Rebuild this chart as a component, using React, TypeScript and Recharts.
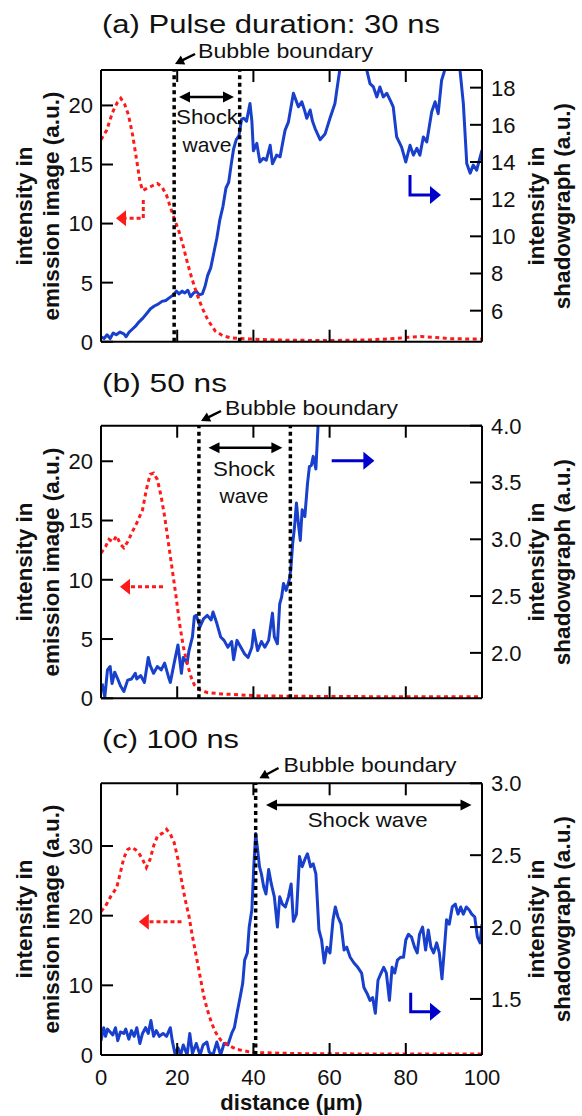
import { ComposedChart, Line, XAxis, YAxis, ReferenceLine } from 'recharts';

const FONT = '"Liberation Sans", Arial, Helvetica, sans-serif';
const BLUE = '#1840cc';
const RED = '#ff1a1a';

type Pt = [number, number];

// (a) 30 ns — [distance µm, intensity]
const redA: Pt[] = [
  [0, 17.1], [1.5, 17.9], [3, 19.4], [4.2, 20.2], [5.2, 20.6], [6.2, 20.1], [7.2, 19.2], [8.3, 17.5],
  [9.3, 15.5], [10.2, 13.6], [10.9, 12.8], [12.2, 13.0], [13.5, 13.2], [14.8, 13.4], [16, 13.1],
  [17.2, 12.4], [18.5, 11.1], [19.5, 10.2], [20.5, 9.3], [21.5, 8.2], [22.5, 6.9], [23.8, 5.4],
  [25.1, 4.1], [26.5, 2.9], [28.1, 1.8], [30, 0.9], [32, 0.5], [34, 0.33], [36.5, 0.27], [42, 0.18],
  [50, 0.12], [60, 0.1], [70, 0.15], [76, 0.25], [80, 0.35], [84, 0.45], [88, 0.35], [92, 0.25], [100, 0.22],
];
const blueA: Pt[] = [
  [0, 4.6], [0.8, 4.5], [1.6, 4.7], [2.4, 4.5], [3.2, 4.8], [4, 4.7], [5, 4.85], [6, 4.75], [6.6, 4.6],
  [7.4, 4.85], [8.2, 5.0], [9, 5.15], [10, 5.4], [11, 5.6], [12, 5.85], [13, 6.1], [14, 6.25], [15, 6.35],
  [16, 6.5], [17, 6.55], [18, 6.7], [19, 6.85], [19.8, 7.05], [20.5, 6.9], [21.3, 7.05], [22, 6.95],
  [22.8, 7.1], [23.5, 6.75], [24.3, 6.95], [25, 7.05], [25.8, 6.85], [26.6, 6.9], [27.3, 7.3], [28, 7.9],
  [28.8, 8.3], [29.6, 9.1], [30.4, 9.9], [31.2, 10.9], [32, 11.6], [32.8, 12.6], [33.5, 12.9], [34.2, 13.9],
  [34.8, 14.7], [35.5, 15.2], [36.2, 15.4], [36.9, 16.3], [37.5, 16.35], [38.2, 16.2], [39.1, 17.15],
  [39.6, 16.2], [40, 14.6], [40.9, 15.0], [41.7, 14.0], [42.6, 14.2], [43.4, 14.1], [44.4, 14.9], [45, 13.9],
  [46.1, 14.37], [47, 14.28], [48.3, 15.7], [49.2, 16.16], [50.5, 17.7], [51.8, 16.97], [52.7, 17.24],
  [53.4, 16.8], [54, 16.35], [54.9, 16.8], [55.5, 16.2], [56.2, 15.8], [57.5, 15.2], [58.8, 15.5],
  [60.1, 16.35], [61.4, 17.15], [61.9, 17.87], [62.7, 19], [64, 21], [66, 22], [68, 21], [69.7, 19],
  [70.6, 18.22], [71.5, 18.04], [72.4, 17.5], [73.2, 18.04], [74.1, 17.5], [75, 17.7], [75.9, 17.33],
  [76.7, 16.97], [77.6, 15.35], [78.9, 14.8], [80, 14.0], [81.1, 14.9], [82, 14.37], [82.9, 14.73],
  [83.7, 14.37], [84.6, 15.35], [85.5, 15.08], [86.8, 16.7], [87.7, 17.24], [88.5, 16.6], [89.4, 18.4],
  [90.3, 19], [92, 20.5], [93, 20.5], [94.2, 19], [95.1, 17.15], [96, 13.92], [96.9, 13.4], [97.7, 13.83],
  [98.6, 13.56], [100, 14.64],
];

// (b) 50 ns
const redB: Pt[] = [
  [0, 12.25], [1.2, 12.8], [2.1, 13.4], [3.1, 13.2], [4.1, 13.7], [5.1, 13.0], [6, 12.7], [7, 13.2],
  [8, 13.9], [9.4, 14.8], [10.9, 15.9], [11.9, 17.6], [12.9, 18.9], [13.8, 19.0], [14.8, 18.45],
  [15.8, 17.0], [16.7, 15.35], [17.7, 13.1], [18.7, 10.85], [19.7, 8.6], [20.6, 6.34], [21.6, 4.37],
  [22.6, 2.96], [23.6, 1.83], [24.5, 1.13], [26, 0.7], [27.9, 0.48], [31.8, 0.37], [41.6, 0.2],
  [60, 0.15], [80, 0.13], [100, 0.13],
];
const blueB: Pt[] = [
  [0.3, 1.73], [1, 1.61], [1.7, 1.85], [2.4, 1.88], [2.9, 1.73], [3.6, 1.83], [4.4, 1.77], [5.1, 1.71],
  [6, 1.66], [7, 1.76], [8, 1.77], [9, 1.82], [9.4, 1.77], [10.4, 1.8], [11.4, 1.74], [12.4, 1.96],
  [12.9, 1.89], [13.8, 1.82], [14.8, 1.88], [15.8, 1.85], [16.7, 1.91], [17.7, 1.79], [18.2, 1.74],
  [19.2, 1.91], [20.2, 2.07], [21.1, 1.82], [21.6, 1.96], [22.6, 1.91], [23.1, 2.02], [24, 2.14],
  [24.5, 2.32], [25, 2.33], [26, 2.23], [26.9, 2.3], [27.9, 2.33], [28.9, 2.29], [29.4, 2.36], [30.4, 2.26],
  [31.4, 2.14], [32.3, 2.11], [33.3, 2.05], [34.3, 2.1], [34.8, 1.94], [35.7, 2.11], [36.7, 2.05],
  [37.7, 1.99], [38.6, 1.96], [39.6, 2.05], [40.1, 2.2], [41.1, 2.02], [42.1, 2.1], [43, 2.05], [44, 2.11],
  [45, 2.35], [45.5, 2.14], [46.3, 2.08], [46.9, 2.43], [47.4, 2.49], [47.9, 2.61], [48.6, 2.55],
  [49.4, 2.64], [49.8, 2.73], [50.3, 2.96], [50.8, 3.11], [51.3, 3.32], [51.8, 3.14], [52.3, 2.99],
  [52.8, 3.26], [53.5, 3.2], [54.2, 3.49], [54.7, 3.64], [55.2, 3.65], [55.7, 3.73], [56.4, 3.62],
  [57, 4.02], [57.5, 4.2],
];

// (c) 100 ns
const redC: Pt[] = [
  [0, 20.6], [1.2, 21.4], [2.6, 22.8], [4.1, 24.0], [5.1, 26.2], [6, 28.3], [7, 29.5], [8, 29.8], [9, 29.5],
  [9.9, 29.0], [10.9, 28.1], [11.9, 26.9], [12.9, 28.1], [13.8, 30.0], [14.8, 31.4], [16.3, 31.9],
  [17.2, 32.4], [18.2, 31.7], [19.2, 30.5], [20.2, 28.1], [21.1, 25.2], [22.1, 22.3], [23.1, 19.9],
  [24, 17.0], [25, 14.2], [26, 11.3], [27, 8.4], [27.9, 6.5], [28.9, 4.8], [29.9, 3.4], [31.4, 2.16],
  [33.3, 1.44], [35.7, 0.8], [38.7, 0.48], [41.6, 0.34], [51.3, 0.2], [70, 0.15], [100, 0.15],
];
const blueC: Pt[] = [
  [0, 1.21], [0.7, 1.3], [1.2, 1.24], [1.7, 1.29], [2.4, 1.27], [3.1, 1.25], [3.8, 1.3], [4.4, 1.21],
  [5.1, 1.27], [6, 1.26], [6.5, 1.29], [7.3, 1.22], [8, 1.28], [8.7, 1.24], [9.4, 1.3], [10.2, 1.19],
  [10.9, 1.26], [11.7, 1.3], [12.4, 1.26], [13.1, 1.35], [13.8, 1.24], [14.5, 1.28], [15.3, 1.24],
  [16.3, 1.26], [17.2, 1.24], [18.2, 1.3], [18.7, 1.21], [19.4, 1.12], [20.2, 1.16], [20.9, 1.11],
  [21.6, 1.18], [22.6, 1.11], [23.3, 1.26], [24, 1.12], [25, 1.19], [26, 1.11], [26.8, 1.18], [27.8, 1.2],
  [28.4, 1.13], [29.4, 1.11], [30.4, 1.2], [31.4, 1.11], [32.3, 1.19], [33.3, 1.18], [34.3, 1.26],
  [35, 1.3], [35.7, 1.4], [36.5, 1.51], [37.2, 1.61], [37.7, 1.77], [38.4, 1.82], [38.9, 2.0], [39.6, 2.12],
  [40.1, 2.42], [40.6, 2.65], [41.1, 2.54], [41.6, 2.42], [42.1, 2.37], [42.7, 2.28], [43.3, 2.23],
  [44, 2.4], [44.7, 2.3], [45.5, 2.21], [46.3, 2.0], [46.9, 2.21], [47.6, 2.16], [48.4, 2.14], [49.2, 2.21],
  [49.9, 2.3], [50.5, 2.04], [51.3, 2.09], [52.1, 2.49], [52.8, 2.42], [53.5, 2.47], [54.2, 2.51],
  [55, 2.42], [55.7, 2.44], [56.4, 2.37], [57.2, 1.98], [57.9, 1.91], [58.6, 1.75], [59.3, 1.86],
  [60.1, 1.82], [60.9, 2.05], [61.5, 2.14], [62.2, 2.07], [63, 2.02], [63.8, 1.84], [64.5, 1.86],
  [65.4, 1.79], [66.4, 1.75], [67.4, 1.72], [68.4, 1.68], [69, 1.58], [69.8, 1.54], [70.6, 1.49],
  [71.3, 1.51], [72, 1.4], [72.7, 1.63], [73.5, 1.68], [74.2, 1.72], [74.9, 1.68], [75.7, 1.49],
  [76.4, 1.72], [77.1, 1.68], [77.8, 1.77], [78.6, 1.79], [79.4, 1.79], [80, 1.91], [80.7, 1.95],
  [81.5, 1.93], [82.3, 1.86], [83, 1.82], [83.6, 1.95], [84.4, 2.0], [85.2, 1.84], [85.9, 1.98],
  [86.6, 1.86], [87.3, 1.82], [88.1, 1.89], [88.8, 1.82], [89.5, 1.64], [90.1, 1.84], [90.7, 2.05],
  [91.4, 2.02], [92.2, 2.14], [93, 2.16], [93.7, 2.09], [94.4, 2.14], [95.1, 2.09], [95.9, 2.14],
  [96.6, 2.12], [97.3, 2.09], [98.1, 2.07], [98.8, 1.93], [99.5, 1.89], [100, 2.02],
];

const boundsA = [19.2, 36.4];
const boundsB = [25.7, 49.7];
const boundsC = [40.6];

const leftTicksA = [0, 5, 10, 15, 20];
const rightTicksA = [6, 8, 10, 12, 14, 16, 18];
const leftTicksB = [0, 5, 10, 15, 20];
const rightTicksB = [2.0, 2.5, 3.0, 3.5, 4.0];
const leftTicksC = [0, 10, 20, 30];
const rightTicksC = [1.5, 2.0, 2.5, 3.0];
const innerXTicks = [20, 40, 60, 80];
const xTicks = [0, 20, 40, 60, 80, 100];

const rows = (pts: Pt[]) => pts.map(([x, y]) => ({ x, y }));

const TICK_LEN = 12;

const LeftTick = ({ x, y, payload }: any) => (
  <g>
    <line x1={x + 8} x2={x + 8 + TICK_LEN} y1={y} y2={y} stroke="#000" strokeWidth={2} />
    <text x={x} y={y} dy="0.36em" textAnchor="end" fontSize={22} fontFamily={FONT} fill="#111">
      {payload.value}
    </text>
  </g>
);

const makeRightTick = (digits: number) => ({ x, y, payload }: any) => (
  <g>
    <line x1={x - 9 - TICK_LEN} x2={x - 9} y1={y} y2={y} stroke="#000" strokeWidth={2} />
    <text x={x} y={y} dy="0.36em" textAnchor="start" fontSize={22} fontFamily={FONT} fill="#111">
      {Number(payload.value).toFixed(digits)}
    </text>
  </g>
);

const makeBottomTick = (labels: boolean) => ({ x, y, payload }: any) => (
  <g>
    <line x1={x} x2={x} y1={y} y2={y - TICK_LEN} stroke="#000" strokeWidth={2} />
    {labels && (
      <text x={x} y={y + 30} textAnchor="middle" fontSize={22} fontFamily={FONT} fill="#111">
        {payload.value}
      </text>
    )}
  </g>
);

const TopTick = ({ x, y }: any) => (
  <line x1={x} x2={x} y1={y} y2={y + TICK_LEN} stroke="#000" strokeWidth={2} />
);

interface PanelProps {
  top: number;
  height: number;
  plotTop: number;
  plotBottom: number;
  red: Pt[];
  blue: Pt[];
  bounds: number[];
  leftDomain: [number, number];
  leftTicks: number[];
  rightDomain: [number, number];
  rightTicks: number[];
  rightDigits: number;
  xLabels: boolean;
}

function Panel(p: PanelProps) {
  const frame = { stroke: '#000', strokeWidth: 2 };
  return (
    <div style={{ position: 'absolute', left: 0, top: p.top, width: 582, height: p.height }}>
      <ComposedChart
        width={582}
        height={p.height}
        margin={{ top: p.plotTop - 1, bottom: p.height - p.plotBottom - 1, left: 100, right: 99 }}
      >
        <XAxis
          xAxisId="bottom"
          dataKey="x"
          type="number"
          domain={[0, 100]}
          allowDataOverflow
          ticks={p.xLabels ? xTicks : innerXTicks}
          interval={0}
          height={1}
          tickSize={0}
          tickMargin={0}
          tickLine={false}
          axisLine={frame}
          tick={makeBottomTick(p.xLabels)}
        />
        <XAxis
          xAxisId="top"
          orientation="top"
          dataKey="x"
          type="number"
          domain={[0, 100]}
          allowDataOverflow
          ticks={innerXTicks}
          interval={0}
          height={1}
          tickSize={0}
          tickMargin={0}
          tickLine={false}
          axisLine={frame}
          tick={TopTick}
        />
        <YAxis
          yAxisId="L"
          domain={p.leftDomain}
          allowDataOverflow
          ticks={p.leftTicks}
          interval={0}
          width={1}
          tickSize={0}
          tickMargin={8}
          tickLine={false}
          axisLine={frame}
          tick={LeftTick}
        />
        <YAxis
          yAxisId="R"
          orientation="right"
          domain={p.rightDomain}
          allowDataOverflow
          ticks={p.rightTicks}
          interval={0}
          width={1}
          tickSize={0}
          tickMargin={9}
          tickLine={false}
          axisLine={frame}
          tick={makeRightTick(p.rightDigits)}
        />
        <Line
          xAxisId="bottom"
          yAxisId="R"
          data={rows(p.blue)}
          dataKey="y"
          type="linear"
          dot={false}
          stroke={BLUE}
          strokeWidth={3}
          strokeLinejoin="round"
          isAnimationActive={false}
        />
        <Line
          xAxisId="top"
          yAxisId="L"
          data={rows(p.red)}
          dataKey="y"
          type="linear"
          dot={false}
          stroke={RED}
          strokeWidth={3}
          strokeDasharray="4 3.5"
          isAnimationActive={false}
        />
        {p.bounds.map((b) => (
          <ReferenceLine
            key={b}
            xAxisId="bottom"
            yAxisId="L"
            x={b}
            stroke="#000"
            strokeWidth={3.5}
            strokeDasharray="4 3.5"
          />
        ))}
      </ComposedChart>
    </div>
  );
}

// polyline arrow, head at last point
function Arrow({ pts, color, w = 2.5, len = 11, half = 5.5, dash, both }: {
  pts: [number, number][]; color: string; w?: number; len?: number; half?: number; dash?: string; both?: boolean;
}) {
  const head = (tip: [number, number], from: [number, number]) => {
    const dx = tip[0] - from[0];
    const dy = tip[1] - from[1];
    const d = Math.hypot(dx, dy) || 1;
    const ux = dx / d;
    const uy = dy / d;
    const bx = tip[0] - ux * len;
    const by = tip[1] - uy * len;
    return {
      base: [bx + ux * 1, by + uy * 1] as [number, number],
      poly: `${tip[0]},${tip[1]} ${bx - uy * half},${by + ux * half} ${bx + uy * half},${by - ux * half}`,
    };
  };
  const n = pts.length;
  const end = head(pts[n - 1], pts[n - 2]);
  const line = [...pts];
  line[n - 1] = end.base;
  let start: { base: [number, number]; poly: string } | null = null;
  if (both) {
    start = head(pts[0], pts[1]);
    line[0] = start.base;
  }
  return (
    <g>
      <polyline
        points={line.map((q) => q.join(',')).join(' ')}
        fill="none"
        stroke={color}
        strokeWidth={w}
        strokeDasharray={dash}
      />
      <polygon points={end.poly} fill={color} />
      {start && <polygon points={start.poly} fill={color} />}
    </g>
  );
}

const txt = { fontFamily: FONT, fill: '#111' };

function AxisTitles({ cy }: { cy: number }) {
  const s = { ...txt, fontSize: 22.5, fontWeight: 700 as const };
  const rot = (x: number) => `rotate(-90 ${x} ${cy})`;
  return (
    <g>
      <text x={24.5} y={cy} transform={rot(24.5)} textAnchor="middle" dominantBaseline="central" {...s}>
        intensity in
      </text>
      <text x={51} y={cy} transform={rot(51)} textAnchor="middle" dominantBaseline="central" {...s}>
        emission image (a.u.)
      </text>
      <text x={536} y={cy} transform={rot(536)} textAnchor="middle" dominantBaseline="central" {...s}>
        intensity in
      </text>
      <text x={562} y={cy} transform={rot(562)} textAnchor="middle" dominantBaseline="central" {...s}>
        shadowgraph (a.u.)
      </text>
    </g>
  );
}

function Overlay() {
  const redArrow = { color: RED, w: 3, len: 10, half: 8, dash: '4 3' };
  const blueArrow = { color: '#0000cc', w: 3, len: 11, half: 9 };
  return (
    <svg
      width={582}
      height={1116}
      style={{ position: 'absolute', left: 0, top: 0, pointerEvents: 'none' }}
    >
      {/* (a) */}
      <text x={102} y={33} fontSize={26} textLength={338} lengthAdjust="spacingAndGlyphs" {...txt}>
        (a) Pulse duration: 30 ns
      </text>
      <text x={198} y={58} fontSize={21} textLength={175} lengthAdjust="spacingAndGlyphs" {...txt}>
        Bubble boundary
      </text>
      <Arrow pts={[[195, 54], [175, 64]]} color="#000" w={2.5} len={9} half={5} />
      <Arrow pts={[[179, 97], [234, 97]]} color="#000" w={2.5} len={11} half={5.5} both />
      <text x={207} y={124} fontSize={21} textAnchor="middle" textLength={62} lengthAdjust="spacingAndGlyphs" {...txt}>
        Shock
      </text>
      <text x={207} y={152} fontSize={21} textAnchor="middle" {...txt}>
        wave
      </text>
      <Arrow pts={[[143.3, 200], [143.3, 218.3], [116, 218.3]]} {...redArrow} />
      <Arrow pts={[[410, 175], [410, 195], [441, 195]]} {...blueArrow} />
      <AxisTitles cy={206} />

      {/* (b) */}
      <text x={102} y={392} fontSize={26} textLength={125} lengthAdjust="spacingAndGlyphs" {...txt}>
        (b) 50 ns
      </text>
      <text x={225} y={415} fontSize={21} textLength={173} lengthAdjust="spacingAndGlyphs" {...txt}>
        Bubble boundary
      </text>
      <Arrow pts={[[221, 411], [201, 421]]} color="#000" w={2.5} len={9} half={5} />
      <Arrow pts={[[208.5, 447.7], [282.4, 447.7]]} color="#000" w={2.5} len={11} half={5.5} both />
      <text x={244} y={476} fontSize={21} textAnchor="middle" textLength={62} lengthAdjust="spacingAndGlyphs" {...txt}>
        Shock
      </text>
      <text x={244} y={503} fontSize={21} textAnchor="middle" {...txt}>
        wave
      </text>
      <Arrow pts={[[163, 586.7], [120, 586.7]]} {...redArrow} />
      <Arrow pts={[[331.7, 460.7], [374.4, 460.7]]} {...blueArrow} />
      <AxisTitles cy={562} />

      {/* (c) */}
      <text x={102} y={748} fontSize={26} textLength={137} lengthAdjust="spacingAndGlyphs" {...txt}>
        (c) 100 ns
      </text>
      <text x={283.5} y={772} fontSize={21} textLength={173} lengthAdjust="spacingAndGlyphs" {...txt}>
        Bubble boundary
      </text>
      <Arrow pts={[[278.5, 768], [259.4, 778.3]]} color="#000" w={2.5} len={9} half={5} />
      <Arrow pts={[[266, 805], [471.5, 805]]} color="#000" w={2.5} len={11} half={5.5} both />
      <text x={367.7} y={827} fontSize={21} textAnchor="middle" textLength={120} lengthAdjust="spacingAndGlyphs" {...txt}>
        Shock wave
      </text>
      <Arrow pts={[[181.5, 921.7], [138.8, 921.7]]} {...redArrow} />
      <Arrow pts={[[410.7, 992.7], [410.7, 1011.7], [441, 1011.7]]} {...blueArrow} />
      <AxisTitles cy={919} />
      <text x={291.5} y={1110} fontSize={22} fontWeight={700} textAnchor="middle" {...txt}>
        distance (µm)
      </text>
    </svg>
  );
}

export default function App() {
  return (
    <div style={{ position: 'absolute', left: 0, top: 0, width: 582, height: 1116, background: '#fff' }}>
      <Panel
        top={0}
        height={370}
        plotTop={70}
        plotBottom={341.7}
        red={redA}
        blue={blueA}
        bounds={boundsA}
        leftDomain={[0, 23]}
        leftTicks={leftTicksA}
        rightDomain={[4.33, 18.95]}
        rightTicks={rightTicksA}
        rightDigits={0}
        xLabels={false}
      />
      <Panel
        top={370}
        height={370}
        plotTop={55.7}
        plotBottom={328.3}
        red={redB}
        blue={blueB}
        bounds={boundsB}
        leftDomain={[0, 23]}
        leftTicks={leftTicksB}
        rightDomain={[1.6, 4.0]}
        rightTicks={rightTicksB}
        rightDigits={1}
        xLabels={false}
      />
      <Panel
        top={740}
        height={376}
        plotTop={43.3}
        plotBottom={315}
        red={redC}
        blue={blueC}
        bounds={boundsC}
        leftDomain={[0, 39]}
        leftTicks={leftTicksC}
        rightDomain={[1.11, 3.0]}
        rightTicks={rightTicksC}
        rightDigits={1}
        xLabels
      />
      <Overlay />
    </div>
  );
}
